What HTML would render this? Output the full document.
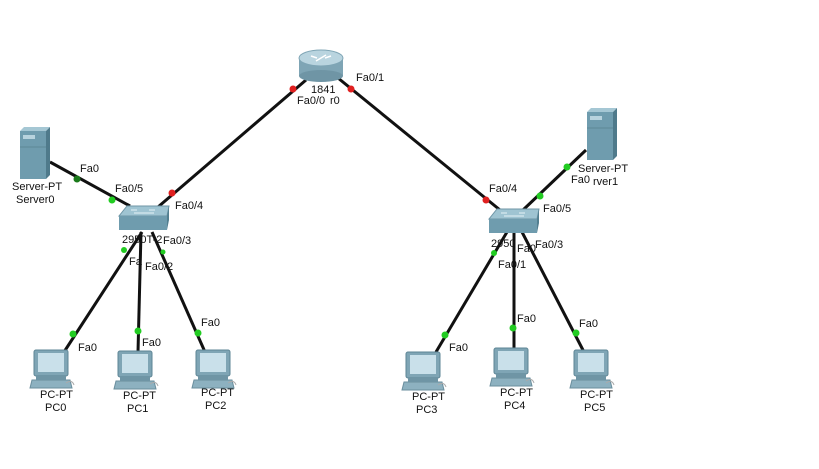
<!DOCTYPE html>
<html><head><style>
html,body{margin:0;padding:0;background:#fff;}
svg{display:block;}
text{font-family:"Liberation Sans",sans-serif;font-size:11px;fill:#111;}
</style></head><body>
<svg width="819" height="469" viewBox="0 0 819 469" xmlns="http://www.w3.org/2000/svg">
<defs>
<g id="pc">
  <rect x="2" y="0" width="34" height="26" rx="2" fill="#7fa5b5" stroke="#5e8595"/>
  <rect x="6" y="3" width="26" height="19" fill="#c9e0ea"/>
  <polygon points="0,30 38,30 40,38 -2,38" fill="#8db1c0" stroke="#6a8e9d"/>
  <rect x="4" y="26" width="30" height="4" fill="#6f95a5"/>
  <path d="M34,33 q6,-4 8,2" stroke="#aaa" fill="none"/>
</g>
<g id="sw">
  <polygon points="8,0 50,0 48,10 0,10" fill="#9fc4d2" stroke="#6f96a6"/>
  <rect x="0" y="10" width="48" height="14" fill="#6f9cae"/>
  <polygon points="48,10 50,0 50,14 48,24" fill="#537f90"/>
  <path d="M12,4 l6,0 M30,4 l6,0 M15,7 l20,0" stroke="#e6f2f6" stroke-width="1"/>
</g>
<g id="srv">
  <rect x="0" y="4" width="26" height="48" fill="#6f9cae"/>
  <polygon points="0,4 4,0 30,0 26,4" fill="#a5c7d4"/>
  <polygon points="26,4 30,0 30,48 26,52" fill="#4f7a8b"/>
  <rect x="3" y="8" width="12" height="4" fill="#b8d3de"/>
  <line x1="0" y1="20" x2="26" y2="20" stroke="#5d8797"/>
</g>
</defs>
<g stroke="#111" stroke-width="3" fill="none">
  <line x1="306" y1="80" x2="158" y2="207"/>
  <line x1="338" y1="78" x2="500" y2="210"/>
  <line x1="50" y1="162" x2="130" y2="206"/>
  <line x1="586" y1="150" x2="523" y2="210"/>
  <line x1="142" y1="232" x2="64" y2="352"/>
  <line x1="141" y1="232" x2="138" y2="352"/>
  <line x1="152" y1="232" x2="205" y2="352"/>
  <line x1="507" y1="232" x2="436" y2="352"/>
  <line x1="514" y1="232" x2="514" y2="350"/>
  <line x1="522" y1="232" x2="584" y2="352"/>
</g>
<!-- router -->
<g>
  <rect x="299" y="58" width="44" height="18" fill="#7fa5b5"/>
  <ellipse cx="321" cy="76" rx="22" ry="6" fill="#6f95a5"/>
  <ellipse cx="321" cy="58" rx="22" ry="8" fill="#b9d4df" stroke="#7fa5b5"/>
  <path d="M311,56 l6,2 M331,56 l-6,2 M316,61 l10,-6" stroke="#fff" stroke-width="1.5"/>
</g>
<use href="#sw" x="119" y="206"/>
<use href="#sw" x="489" y="209"/>
<use href="#srv" x="20" y="127"/>
<use href="#srv" x="587" y="108"/>
<use href="#pc" x="32" y="350"/>
<use href="#pc" x="116" y="351"/>
<use href="#pc" x="194" y="350"/>
<use href="#pc" x="404" y="352"/>
<use href="#pc" x="492" y="348"/>
<use href="#pc" x="572" y="350"/>
<!-- dots -->
<g fill="#e02020">
  <circle cx="293" cy="89" r="3.5"/><circle cx="351" cy="89" r="3.5"/>
  <circle cx="172" cy="193" r="3.5"/><circle cx="486" cy="200" r="3.5"/>
</g>
<g fill="#22cc22">
  <circle cx="112" cy="200" r="3.5"/><circle cx="540" cy="196" r="3.5"/>
  <circle cx="567" cy="167" r="3.5"/>
  <circle cx="124" cy="250" r="3"/><circle cx="163" cy="252" r="2.5"/>
  <circle cx="494" cy="253" r="3"/>
  <circle cx="73" cy="334" r="3.5"/><circle cx="138" cy="331" r="3.5"/><circle cx="198" cy="333" r="3.5"/>
  <circle cx="445" cy="335" r="3.5"/><circle cx="513" cy="328" r="3.5"/><circle cx="576" cy="333" r="3.5"/>
</g>
<circle cx="77" cy="179" r="3.5" fill="#1a7a1a"/>
<!-- labels -->
<text x="356" y="81">Fa0/1</text>
<text x="311" y="93">1841</text>
<text x="297" y="104">Fa0/0</text><text x="330" y="104">r0</text>
<text x="80" y="172">Fa0</text>
<text x="115" y="192">Fa0/5</text>
<text x="175" y="209">Fa0/4</text>
<text x="12" y="190">Server-PT</text>
<text x="16" y="203">Server0</text>
<text x="122" y="243">2950T-2</text>
<text x="163" y="244">Fa0/3</text>
<text x="129" y="265">Fa</text>
<text x="145" y="270">Fa0/2</text>
<text x="489" y="192">Fa0/4</text>
<text x="543" y="212">Fa0/5</text>
<text x="571" y="183">Fa0</text>
<text x="578" y="172">Server-PT</text>
<text x="593" y="185">rver1</text>
<text x="491" y="247">2950</text>
<text x="517" y="252">Fa0</text>
<text x="535" y="248">Fa0/3</text>
<text x="498" y="268">Fa0/1</text>
<text x="78" y="351">Fa0</text>
<text x="142" y="346">Fa0</text>
<text x="201" y="326">Fa0</text>
<text x="449" y="351">Fa0</text>
<text x="517" y="322">Fa0</text>
<text x="579" y="327">Fa0</text>
<text x="40" y="398">PC-PT</text><text x="45" y="411">PC0</text>
<text x="123" y="399">PC-PT</text><text x="127" y="412">PC1</text>
<text x="201" y="396">PC-PT</text><text x="205" y="409">PC2</text>
<text x="412" y="400">PC-PT</text><text x="416" y="413">PC3</text>
<text x="500" y="396">PC-PT</text><text x="504" y="409">PC4</text>
<text x="580" y="398">PC-PT</text><text x="584" y="411">PC5</text>
</svg>
</body></html>
